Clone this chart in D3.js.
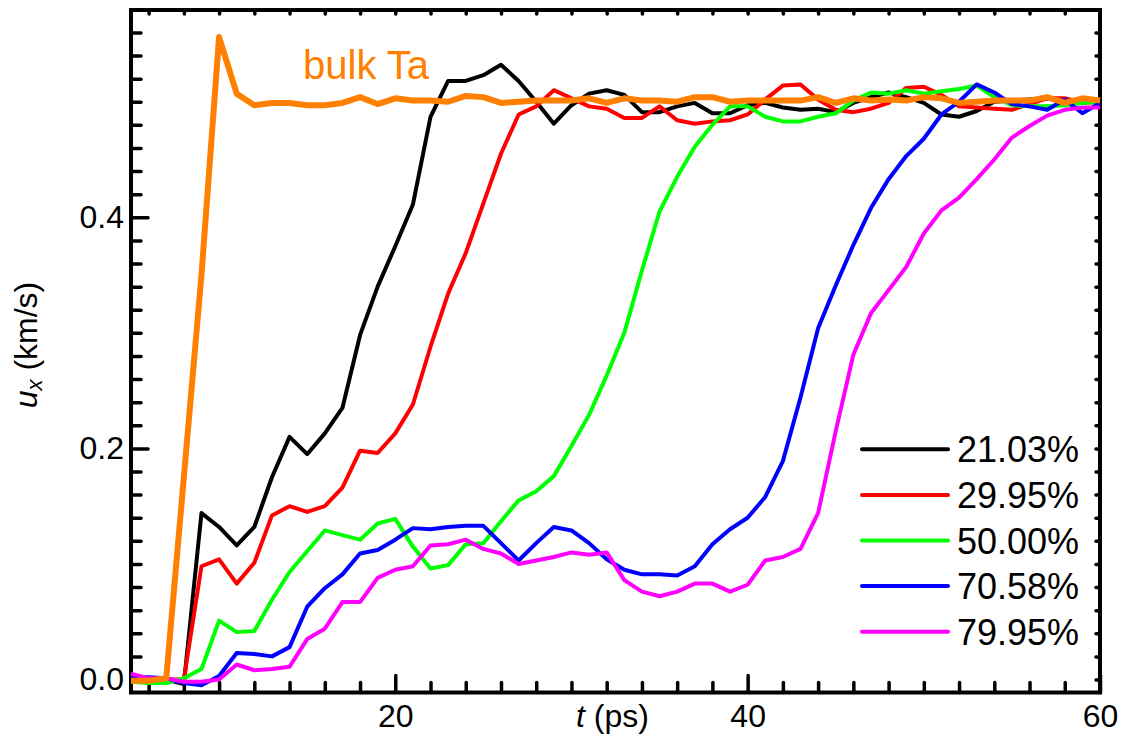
<!DOCTYPE html>
<html>
<head>
<meta charset="utf-8">
<script src="https://cdnjs.cloudflare.com/ajax/libs/d3/7.8.5/d3.min.js"></script>
<style>
    body { margin: 0; background: #fff; }
    svg text { font-family: "Liberation Sans", Arial, sans-serif; }
</style>
</head>
<body>
<div id="chart"></div>
<script>
// time samples (ps), one per picosecond
var times = d3.range(5, 61);

var seriesNames = ["21.03%", "29.95%", "50.00%", "70.58%", "79.95%"];
var seriesColors = ["#000000", "#ff0000", "#00ff00", "#0000ff", "#ff00ff"];

var black21 = [0.001, 0.000, 0.000, -0.004, 0.144, 0.132, 0.116, 0.132, 0.175, 0.210,
    0.195, 0.213, 0.235, 0.298, 0.340, 0.375, 0.411, 0.487, 0.518, 0.518,
    0.523, 0.532, 0.518, 0.500, 0.481, 0.497, 0.507, 0.510, 0.506, 0.491,
    0.491, 0.496, 0.499, 0.490, 0.490, 0.497, 0.499, 0.495, 0.493, 0.494,
    0.491, 0.499, 0.504, 0.508, 0.504, 0.499, 0.489, 0.487, 0.492, 0.500,
    0.501, 0.502, 0.503, 0.502, 0.501, 0.501];

var red30 = [0.001, 0.000, 0.000, 0.000, 0.098, 0.104, 0.083, 0.101, 0.142, 0.150,
    0.145, 0.150, 0.166, 0.198, 0.196, 0.213, 0.238, 0.288, 0.334, 0.369,
    0.412, 0.455, 0.489, 0.496, 0.510, 0.503, 0.496, 0.494, 0.486, 0.486,
    0.496, 0.484, 0.481, 0.483, 0.484, 0.489, 0.502, 0.514, 0.515, 0.502,
    0.493, 0.491, 0.494, 0.499, 0.512, 0.513, 0.506, 0.496, 0.495, 0.494,
    0.493, 0.498, 0.503, 0.503, 0.499, 0.500];

var green50 = [-0.002, -0.003, -0.003, 0.001, 0.009, 0.051, 0.041, 0.042, 0.069, 0.093,
    0.111, 0.129, 0.125, 0.121, 0.135, 0.139, 0.115, 0.096, 0.099, 0.117,
    0.118, 0.137, 0.155, 0.163, 0.176, 0.202, 0.229, 0.263, 0.300, 0.354,
    0.405, 0.435, 0.461, 0.480, 0.496, 0.496, 0.487, 0.483, 0.483, 0.487,
    0.490, 0.501, 0.508, 0.507, 0.510, 0.507, 0.509, 0.511, 0.514, 0.504,
    0.497, 0.496, 0.496, 0.497, 0.499, 0.500];

var blue71 = [0.002, 0.002, 0.001, -0.003, -0.005, 0.003, 0.023, 0.022, 0.020, 0.028,
    0.063, 0.079, 0.091, 0.109, 0.112, 0.121, 0.131, 0.130, 0.132, 0.133,
    0.133, 0.118, 0.103, 0.118, 0.132, 0.129, 0.118, 0.104, 0.095, 0.091,
    0.091, 0.090, 0.098, 0.117, 0.130, 0.140, 0.158, 0.189, 0.244, 0.304,
    0.341, 0.376, 0.408, 0.433, 0.453, 0.468, 0.489, 0.500, 0.515, 0.508,
    0.498, 0.496, 0.493, 0.502, 0.490, 0.499];

var magenta80 = [0.005, 0.001, 0.001, -0.002, -0.002, 0.000, 0.013, 0.008, 0.009, 0.011,
    0.035, 0.044, 0.067, 0.067, 0.088, 0.095, 0.098, 0.116, 0.117, 0.121,
    0.113, 0.109, 0.100, 0.103, 0.106, 0.110, 0.108, 0.110, 0.086, 0.076,
    0.072, 0.076, 0.083, 0.083, 0.076, 0.082, 0.103, 0.106, 0.113, 0.144,
    0.215, 0.281, 0.317, 0.337, 0.357, 0.386, 0.406, 0.417, 0.433, 0.450,
    0.469, 0.479, 0.488, 0.493, 0.495, 0.495];

var bulkTa = [-0.001, -0.001, 0.001, 0.175, 0.350, 0.556, 0.507, 0.497, 0.499, 0.499,
    0.497, 0.497, 0.499, 0.504, 0.498, 0.503, 0.501, 0.501, 0.500, 0.505,
    0.504, 0.499, 0.500, 0.501, 0.501, 0.501, 0.503, 0.499, 0.503, 0.501,
    0.501, 0.500, 0.504, 0.504, 0.500, 0.501, 0.501, 0.501, 0.501, 0.504,
    0.499, 0.503, 0.501, 0.502, 0.501, 0.504, 0.503, 0.499, 0.500, 0.501,
    0.501, 0.501, 0.504, 0.499, 0.503, 0.501];

var xMajorTicks = [20, 40, 60];
var yMajorTicks = [0.0, 0.2, 0.4];

var seriesValues = [black21, red30, green50, blue71, magenta80];

function drawChart() {

    var w = 1125;
    var h = 742;

    var left = 131, right = 1100, top = 10, bottom = 692.5;

    var svg = d3.select("#chart").append("svg").attr("width", w).attr("height", h);

    var xScale = d3.scaleLinear().domain([5, 60]).range([left, right]);
    var yScale = d3.scaleLinear().domain([-0.01125, 0.5794]).range([bottom, top]);

    var line = d3.line()
        .x(function (d) { return xScale(d[0]); })
        .y(function (d) { return yScale(d[1]); });

    //minor and major ticks, all pointing into the plot
    var xMinor = d3.range(6, 60, 2).filter(function (d) { return xMajorTicks.indexOf(d) < 0; });
    var yMinor = d3.range(0, 30).map(function (i) { return +(i * 0.02).toFixed(2); })
        .filter(function (d) { return d !== 0 && d !== 0.2 && d !== 0.4; });

    function styleAxis(g) {
        g.select(".domain").remove();
        g.selectAll(".tick line").attr("stroke", "#000").attr("stroke-width", 3.5).attr("stroke-linecap", "round");
        g.selectAll(".tick text").attr("font-size", "32px").attr("fill", "#000")
            .attr("font-family", "'Liberation Sans', Arial, sans-serif");
    }

    svg.append("g").attr("transform", "translate(0," + bottom + ")")
        .call(d3.axisBottom(xScale).tickValues(xMinor).tickSize(-10).tickFormat(""))
        .call(styleAxis);
    svg.append("g").attr("transform", "translate(0," + bottom + ")")
        .call(d3.axisBottom(xScale).tickValues(xMajorTicks).tickSize(-17).tickPadding(12).tickFormat(d3.format("d")))
        .call(styleAxis);

    svg.append("g").attr("transform", "translate(" + left + ",0)")
        .call(d3.axisLeft(yScale).tickValues(yMinor).tickSize(-10).tickFormat(""))
        .call(styleAxis);
    svg.append("g").attr("transform", "translate(" + left + ",0)")
        .call(d3.axisLeft(yScale).tickValues(yMajorTicks).tickSize(-17).tickPadding(7).tickFormat(d3.format(".1f")))
        .call(styleAxis);

    //tiny ticks on the top and right edges
    svg.append("g").attr("transform", "translate(0," + top + ")")
        .call(d3.axisTop(xScale).tickValues(xMinor.concat([20, 40])).tickSize(-4).tickFormat(""))
        .call(styleAxis);
    svg.append("g").attr("transform", "translate(" + right + ",0)")
        .call(d3.axisRight(yScale).tickValues(yMinor.concat(yMajorTicks)).tickSize(-4).tickFormat(""))
        .call(styleAxis);

    // frame
    svg.append("rect")
        .attr("x", left).attr("y", top)
        .attr("width", right - left).attr("height", bottom - top)
        .attr("fill", "none").attr("stroke", "#000").attr("stroke-width", 4);

    // data lines
    seriesValues.forEach(function (vals, i) {
        svg.append("path")
            .datum(d3.zip(times, vals))
            .attr("d", line)
            .attr("fill", "none")
            .attr("stroke", seriesColors[i])
            .attr("stroke-width", 4)
            .attr("stroke-linejoin", "round");
    });

    svg.append("path")
        .datum(d3.zip(times, bulkTa))
        .attr("d", line)
        .attr("fill", "none")
        .attr("stroke", "#ff8000")
        .attr("stroke-width", 6)
        .attr("stroke-linejoin", "round");

    svg.append("text")
        .attr("x", 303).attr("y", 79)
        .attr("font-size", "40px")
        .attr("fill", "#ff8000")
        .text("bulk Ta");

    // legend
    var legend = svg.append("g");
    seriesNames.forEach(function (name, i) {
        var ly = 449.3 + i * 45.6;
        legend.append("line")
            .attr("x1", 862).attr("x2", 948)
            .attr("y1", ly).attr("y2", ly)
            .attr("stroke", seriesColors[i])
            .attr("stroke-width", 4)
            .attr("stroke-linecap", "round");
        legend.append("text")
            .attr("x", 957).attr("y", ly + 13)
            .attr("font-size", "36px")
            .attr("fill", "#000")
            .text(name);
    });

    // axis titles
    var xt = svg.append("text").attr("x", 576).attr("y", 727).attr("font-size", "32px");
    xt.append("tspan").attr("font-style", "italic").text("t");
    xt.append("tspan").text(" (ps)");

    var yt = svg.append("text")
        .attr("transform", "translate(37,345) rotate(-90)")
        .attr("text-anchor", "middle")
        .attr("font-size", "32px");
    yt.append("tspan").attr("font-style", "italic").text("u");
    yt.append("tspan").attr("font-style", "italic").attr("font-size", "22px").attr("dy", 5).text("x");
    yt.append("tspan").attr("dy", -5).text(" (km/s)");
}

drawChart();
</script>
</body>
</html>
